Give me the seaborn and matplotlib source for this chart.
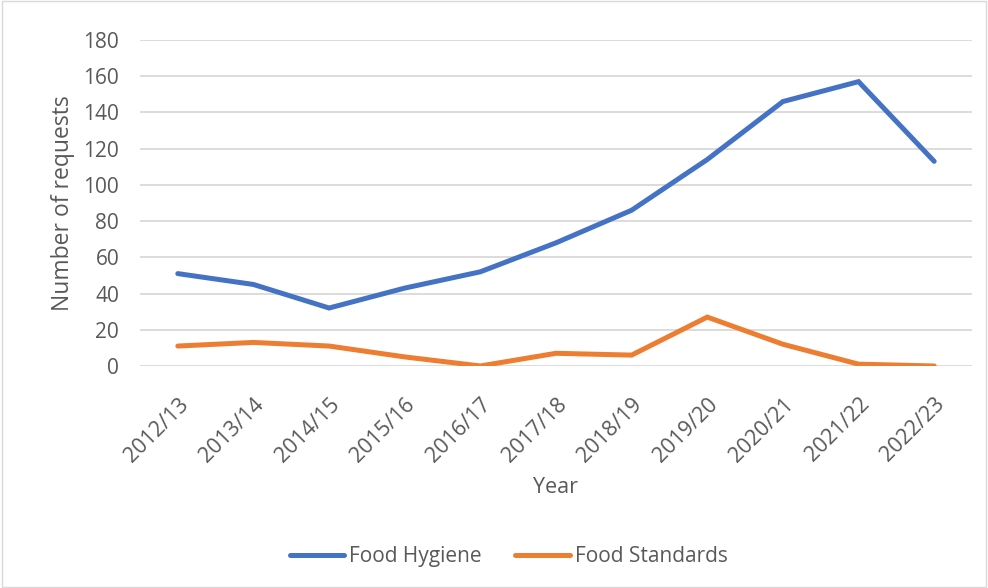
import pandas as pd
import matplotlib
matplotlib.use("Agg")
import matplotlib.pyplot as plt
import seaborn as sns

# --- Data ---
years = ["2012/13", "2013/14", "2014/15", "2015/16", "2016/17", "2017/18",
         "2018/19", "2019/20", "2020/21", "2021/22", "2022/23"]
food_hygiene = [51, 45, 32, 43, 52, 68, 86, 114, 146, 157, 113]
food_standards = [11, 13, 11, 5, 0, 7, 6, 27, 12, 1, 0]
y_ticks = [0, 20, 40, 60, 80, 100, 120, 140, 160, 180]

TEXT = "#595959"
GRID = "#D9D9D9"
PALETTE = {"Food Hygiene": "#4472C4", "Food Standards": "#ED7D31"}

sns.set_theme(style="white")
plt.rcParams["font.family"] = ["Open Sans", "DejaVu Sans"]

df = pd.DataFrame({
    "Year": years * 2,
    "Requests": food_hygiene + food_standards,
    "Series": ["Food Hygiene"] * len(years) + ["Food Standards"] * len(years),
})
df["pos"] = df.groupby("Series").cumcount()

fig = plt.figure(figsize=(9.88, 5.88), dpi=100)
ax = fig.add_axes([0.1417, 0.3776, 0.8421, 0.5544])

sns.lineplot(data=df, x="pos", y="Requests", hue="Series", palette=PALETTE,
             linewidth=3.6, ax=ax, legend=False, solid_capstyle="round",
             solid_joinstyle="miter")

ax.set_xlim(-0.5, len(years) - 0.5)
ax.set_ylim(0, 180)
ax.set_yticks(y_ticks)
ax.set_xticks(range(len(years)))
ax.set_xticklabels(years, rotation=45, ha="right", rotation_mode="anchor")
ax.yaxis.grid(True, color=GRID, linewidth=1.3)
ax.set_axisbelow(True)
for s in ax.spines.values():
    s.set_visible(False)
ax.tick_params(axis="y", length=0, labelsize=15, colors=TEXT, pad=15)
ax.tick_params(axis="x", length=0, labelsize=15.5, colors=TEXT, pad=20)

ax.set_xlabel("Year", fontsize=15.5, color=TEXT, labelpad=8)
ax.set_ylabel("Number of requests", fontsize=16.5, color=TEXT, labelpad=6)

handles = [plt.Line2D([0], [0], color=c, linewidth=3.6, solid_capstyle="round")
           for c in PALETTE.values()]
fig.legend(handles, list(PALETTE.keys()), loc="center", bbox_to_anchor=(0.515, 0.053),
           ncol=2, frameon=False, fontsize=15, labelcolor=TEXT,
           handlelength=2.6, columnspacing=1.6, handletextpad=0.25)

# light outer border like the chart frame
fig.patches.append(plt.Rectangle((0.002, 0.002), 0.996, 0.996, transform=fig.transFigure,
                                 fill=False, edgecolor=GRID, linewidth=1))

fig.savefig("out.png", dpi=100)
